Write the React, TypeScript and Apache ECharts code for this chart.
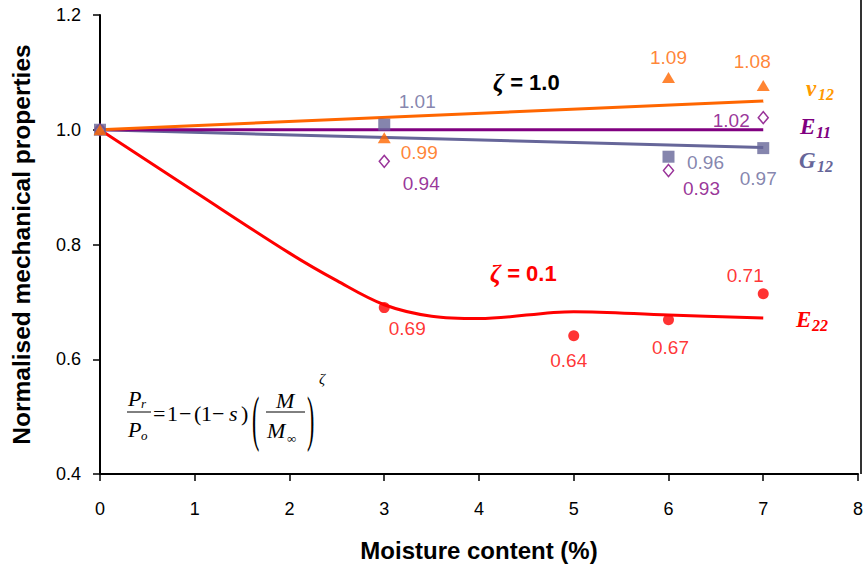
import React, { useEffect, useRef } from "react";
import * as echarts from "echarts";

// ---- data ----
const moisture = [0, 3, 6, 7];
const nu12 = [1.0, 0.986, 1.091, 1.077];
const nu12Labels = ["", "0.99", "1.09", "1.08"];
const g12 = [1.0, 1.009, 0.953, 0.968];
const g12Labels = ["", "1.01", "0.96", "0.97"];
const e11 = [1.0, 0.945, 0.929, 1.021];
const e11Labels = ["", "0.94", "0.93", "1.02"];
const e22Moisture = [0, 3, 5, 6, 7];
const e22 = [1.0, 0.69, 0.641, 0.669, 0.714];
const e22Labels = ["", "0.69", "0.64", "0.67", "0.71"];

// fitted trend lines
const fitX = [0, 7];
const nu12Fit = [1.0, 1.05];
const e11Fit = [1.0, 1.0];
const g12Fit = [1.0, 0.969];
const e22FitX = [0, 1, 2, 2.5, 3, 3.5, 4, 5, 6, 7];
const e22Fit = [1.0, 0.892, 0.785, 0.737, 0.695, 0.675, 0.671, 0.683, 0.677, 0.672];

// label offsets (style)
const nu12Off = [[0, 0], [35, 15], [0, -20], [-11, -24]];
const g12Off = [[0, 0], [33, -23], [37, 6], [-5, 30]];
const e11Off = [[0, 0], [37, 22], [33, 18], [-32, 3]];
const e22Off = [[0, 0], [23, 21], [-5, 25], [2, 28], [-18, -18]];

const ORANGE = "#FF6600";
const PURPLE = "#800080";
const SLATE = "#666699";
const RED = "#FF0000";
const SANS = "Arial, 'Liberation Sans', Helvetica, sans-serif";
const SERIF = "'Times New Roman', 'Liberation Serif', serif";

function pts(xs: number[], ys: number[], labels: string[], offs: number[][], color: string) {
  return xs.map((x, i) => ({
    value: [x, ys[i]],
    label: {
      show: labels[i] !== "",
      formatter: labels[i],
      position: "inside",
      offset: offs[i],
      color,
      fontSize: 19,
      fontFamily: SANS,
    },
  }));
}

function line(xs: number[], ys: number[]) {
  return xs.map((x, i) => [x, ys[i]]);
}

export default function App() {
  const ref = useRef<HTMLDivElement>(null);
  useEffect(() => {
    if (!ref.current) return;
    const chart = echarts.init(ref.current, null, { renderer: "svg" });
    const t = (text: string, x: number, y: number, style: any, extra: any = {}) => ({
      type: "text",
      x,
      y,
      ...extra,
      style: { text, fontFamily: SERIF, fontSize: 22, fill: "#000", verticalAlign: "middle", ...style },
    });
    chart.setOption({
      animation: false,
      backgroundColor: "#fff",
      grid: { left: 100, right: 5, top: 15, bottom: 93, containLabel: false },
      xAxis: {
        type: "value",
        min: 0,
        max: 8,
        interval: 1,
        name: "Moisture content (%)",
        nameLocation: "middle",
        nameGap: 64,
        nameTextStyle: { fontFamily: SANS, fontSize: 24, fontWeight: "bold", color: "#000" },
        axisLine: { lineStyle: { color: "#000", width: 2 } },
        axisTick: { show: true, inside: false, length: 7, lineStyle: { color: "#000", width: 1.5 } },
        axisLabel: { margin: 26, fontFamily: SANS, fontSize: 18, color: "#000" },
        splitLine: { show: false },
      },
      yAxis: {
        type: "value",
        min: 0.4,
        max: 1.2,
        interval: 0.2,
        name: "Normalised mechanical properties",
        nameLocation: "middle",
        nameGap: 66,
        nameTextStyle: { fontFamily: SANS, fontSize: 24.5, fontWeight: "bold", color: "#000" },
        axisLine: { show: true, lineStyle: { color: "#000", width: 2 } },
        axisTick: { show: true, inside: false, length: 7, lineStyle: { color: "#000", width: 1.5 } },
        axisLabel: {
          margin: 19,
          fontFamily: SANS,
          fontSize: 18,
          color: "#000",
          formatter: (v: number) => v.toFixed(1),
        },
        splitLine: { show: false },
      },
      series: [
        {
          type: "line",
          data: line(e22FitX, e22Fit),
          smooth: 0.35,
          showSymbol: false,
          symbol: "none",
          lineStyle: { color: RED, width: 3 },
          z: 2,
        },
        {
          type: "line",
          data: line(fitX, g12Fit),
          symbol: "none",
          lineStyle: { color: SLATE, width: 3 },
          z: 2,
        },
        {
          type: "line",
          data: line(fitX, e11Fit),
          symbol: "none",
          lineStyle: { color: PURPLE, width: 3 },
          z: 2,
        },
        {
          type: "line",
          data: line(fitX, nu12Fit),
          symbol: "none",
          lineStyle: { color: ORANGE, width: 3 },
          z: 2,
        },
        {
          type: "scatter",
          data: pts(e22Moisture, e22, e22Labels, e22Off, RED),
          symbol: "circle",
          symbolSize: 11,
          itemStyle: { color: RED },
          z: 3,
        },
        {
          type: "scatter",
          data: pts(moisture, e11, e11Labels, e11Off, PURPLE),
          symbol: "diamond",
          symbolSize: [10, 12],
          itemStyle: { color: "#fff", borderColor: PURPLE, borderWidth: 1.5 },
          z: 4,
        },
        {
          type: "scatter",
          data: pts(moisture, g12, g12Labels, g12Off, SLATE),
          symbol: "rect",
          symbolSize: 12,
          itemStyle: { color: SLATE },
          z: 5,
        },
        {
          type: "scatter",
          data: pts(moisture, nu12, nu12Labels, nu12Off, ORANGE),
          symbol: "triangle",
          symbolSize: [13, 11],
          itemStyle: { color: ORANGE },
          z: 6,
        },
      ],
      graphic: [
        // right border
        { type: "line", shape: { x1: 861, y1: 0, x2: 861, y2: 474 }, style: { stroke: "#333", lineWidth: 2 } },
        // zeta annotations
        {
          type: "text",
          x: 493,
          y: 82,
          style: {
            text: "{z|ζ}{b| = 1.0}",
            verticalAlign: "middle",
            rich: {
              z: { fontFamily: SERIF, fontStyle: "italic", fontSize: 25, fill: "#000", fontWeight: "bold" },
              b: { fontFamily: SANS, fontSize: 22, fontWeight: "bold", fill: "#000" },
            },
          },
        },
        {
          type: "text",
          x: 490,
          y: 273,
          style: {
            text: "{z|ζ}{b| = 0.1}",
            verticalAlign: "middle",
            rich: {
              z: { fontFamily: SERIF, fontStyle: "italic", fontSize: 25, fill: RED, fontWeight: "bold" },
              b: { fontFamily: SANS, fontSize: 22, fontWeight: "bold", fill: RED },
            },
          },
        },
        // series names
        t("ν", 806, 88, { fontStyle: "italic", fontWeight: "bold", fontSize: 23, fill: "#FF9900" }),
        t("12", 818, 94, { fontStyle: "italic", fontWeight: "bold", fontSize: 16, fill: "#FF9900" }),
        t("E", 800, 126, { fontStyle: "italic", fontWeight: "bold", fontSize: 23, fill: PURPLE }),
        t("11", 816, 132, { fontStyle: "italic", fontWeight: "bold", fontSize: 16, fill: PURPLE }),
        t("G", 799, 160, { fontStyle: "italic", fontWeight: "bold", fontSize: 23, fill: SLATE }),
        t("12", 817, 166, { fontStyle: "italic", fontWeight: "bold", fontSize: 16, fill: SLATE }),
        t("E", 796, 319, { fontStyle: "italic", fontWeight: "bold", fontSize: 23, fill: RED }),
        t("22", 812, 325, { fontStyle: "italic", fontWeight: "bold", fontSize: 16, fill: RED }),
        // formula  Pr/Po = 1 − (1 − s)(M/M∞)^ζ
        t("P", 128, 398, { fontStyle: "italic" }),
        t("r", 141, 403, { fontStyle: "italic", fontSize: 13 }),
        { type: "line", shape: { x1: 127, y1: 412, x2: 151, y2: 412 }, style: { stroke: "#000", lineWidth: 1 } },
        t("P", 128, 429, { fontStyle: "italic" }),
        t("o", 141, 435, { fontStyle: "italic", fontSize: 13 }),
        t("=", 153, 413, {}),
        t("1", 167, 413, {}),
        t("−", 179, 413, {}),
        t("(", 194, 413, {}),
        t("1", 201, 413, {}),
        t("−", 212, 413, {}),
        t("s", 229, 413, { fontStyle: "italic" }),
        t(")", 241, 413, {}),
        t("(", 252, 0, { fontSize: 22 }, { scaleY: 2.8, y: 418 }),
        t("M", 276, 400, { fontStyle: "italic" }),
        { type: "line", shape: { x1: 266, y1: 412, x2: 305, y2: 412 }, style: { stroke: "#000", lineWidth: 1 } },
        t("M", 267, 430, { fontStyle: "italic" }),
        t("∞", 287, 438, { fontSize: 13 }),
        t(")", 307, 0, { fontSize: 22 }, { scaleY: 2.8, y: 418 }),
        t("ζ", 319, 379, { fontStyle: "italic", fontSize: 15 }),
      ],
    });
    return () => chart.dispose();
  }, []);
  return (
    <div
      ref={ref}
      style={{ position: "absolute", left: 0, top: 0, width: 866, height: 567 }}
    />
  );
}
